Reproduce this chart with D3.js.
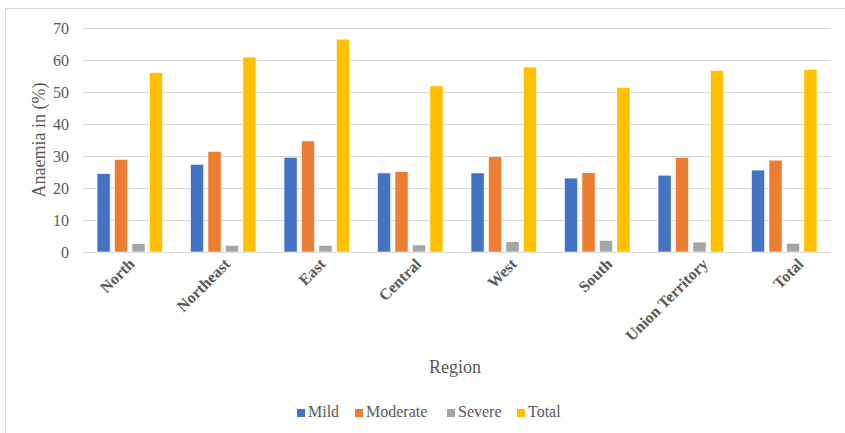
<!DOCTYPE html>
<html>
<head>
<meta charset="utf-8">
<script src="https://cdn.jsdelivr.net/npm/d3@7"></script>
<style>
  body { margin: 0; background: #fff; }
  svg text { font-family: "Liberation Serif", "DejaVu Serif", "Times New Roman", serif !important; }
</style>
</head>
<body>
<svg width="845" height="433"></svg>
<script>
const regions = ['North', 'Northeast', 'East', 'Central', 'West', 'South', 'Union Territory', 'Total']
const series = ['Mild', 'Moderate', 'Severe', 'Total']
const mild = [24.5, 27.4, 29.6, 24.7, 24.7, 23.1, 24.0, 25.6]
const moderate = [28.9, 31.4, 34.7, 25.1, 29.9, 24.8, 29.6, 28.7]
const severe = [2.6, 2.1, 2.1, 2.2, 3.2, 3.6, 3.1, 2.7]
const total = [56.1, 60.9, 66.5, 51.9, 57.8, 51.4, 56.7, 57.0]
const yTicks = [0, 10, 20, 30, 40, 50, 60, 70]
const colors = ['#4472C4', '#ED7D31', '#A5A5A5', '#FFC000']

const serif = '"Liberation Serif", "DejaVu Serif", serif'
const svg = d3.select('svg').attr('font-family', serif)
const width = +svg.attr('width')
const height = +svg.attr('height')

const values = [mild, moderate, severe, total]
const data = regions.map((r, i) => ({ region: r, vals: values.map(v => v[i]) }))

const margin = { top: 28, right: 14, bottom: 181, left: 83 }
const innerWidth = width - margin.left - margin.right
const innerHeight = height - margin.top - margin.bottom

// outer frame (only top and left edges are visible in the picture)
svg.append('path')
  .attr('d', `M5.5,${height}V8.5H${width}`)
  .attr('fill', 'none').attr('stroke', '#d9d9d9')

const xScale = d3.scaleBand()
  .domain(regions)
  .range([0, innerWidth])
  .paddingInner(0.3)
  .paddingOuter(0.15)

const xInner = d3.scaleBand()
  .domain(series)
  .range([0, xScale.bandwidth()])
  .paddingInner(0.25)

// category labels drift slightly right of the groups in the original
const xLabel = d3.scalePoint()
  .domain(regions)
  .range([52, 721])

const yScale = d3.scaleLinear()
  .domain([0, 70])
  .range([innerHeight, 0])

const g = svg.append('g')
  .attr('transform', `translate(${margin.left},${margin.top})`)

// gridlines
g.append('g')
  .selectAll('line').data(yTicks)
  .enter().append('line')
    .attr('x1', 0).attr('x2', innerWidth)
    .attr('y1', d => yScale(d) + 0.5).attr('y2', d => yScale(d) + 0.5)
    .attr('stroke', '#d9d9d9').attr('stroke-width', 1.2)

// y axis
const yAxis = g.append('g').call(d3.axisLeft(yScale).tickValues(yTicks).tickSize(0).tickPadding(14))
yAxis.attr('font-family', serif)
yAxis.select('.domain').remove()
yAxis.selectAll('text')
  .attr('fill', '#595959')
  .style('font-size', '16px')

// x axis
const xAxis = g.append('g')
  .attr('transform', `translate(0,${innerHeight})`)
  .call(d3.axisBottom(xLabel).tickSize(0))
xAxis.attr('font-family', serif)
xAxis.select('.domain').remove()
xAxis.selectAll('text')
  .attr('fill', '#595959')
  .style('font-size', '16px')
  .style('font-weight', 'bold')
  .attr('text-anchor', 'end')
  .attr('dy', null)
  .attr('y', 0)
  .attr('transform', 'translate(0,13) rotate(-45)')

// bars
g.append('g')
  .selectAll('g').data(data)
  .enter().append('g')
    .attr('transform', d => `translate(${xScale(d.region)},0)`)
  .selectAll('rect').data(d => d.vals.map((v, i) => ({ key: series[i], value: v, i })))
  .enter().append('rect')
    .attr('x', d => xInner(d.key))
    .attr('y', d => yScale(d.value))
    .attr('width', xInner.bandwidth())
    .attr('height', d => innerHeight - yScale(d.value))
    .attr('fill', d => colors[d.i])
    .attr('stroke', '#fff').attr('stroke-width', 0.6)

// axis titles
svg.append('text')
  .attr('transform', `translate(45,${margin.top + innerHeight / 2}) rotate(-90)`)
  .attr('text-anchor', 'middle')
  .attr('fill', '#595959')
  .style('font-size', '18px')
  .text('Anaemia in (%)')

svg.append('text')
  .attr('x', 455).attr('y', 373)
  .attr('text-anchor', 'middle')
  .attr('fill', '#595959')
  .style('font-size', '18px')
  .text('Region')

// legend
const legendX = [297, 355, 447, 517]
const legend = svg.append('g')
  .selectAll('g').data(series)
  .enter().append('g')
    .attr('transform', (d, i) => `translate(${legendX[i]},409)`)
legend.append('rect')
  .attr('width', 8).attr('height', 8)
  .attr('fill', (d, i) => colors[i])
legend.append('text')
  .attr('x', 11).attr('y', 8)
  .attr('fill', '#595959')
  .style('font-size', '16px')
  .text(d => d)
</script>
</body>
</html>
